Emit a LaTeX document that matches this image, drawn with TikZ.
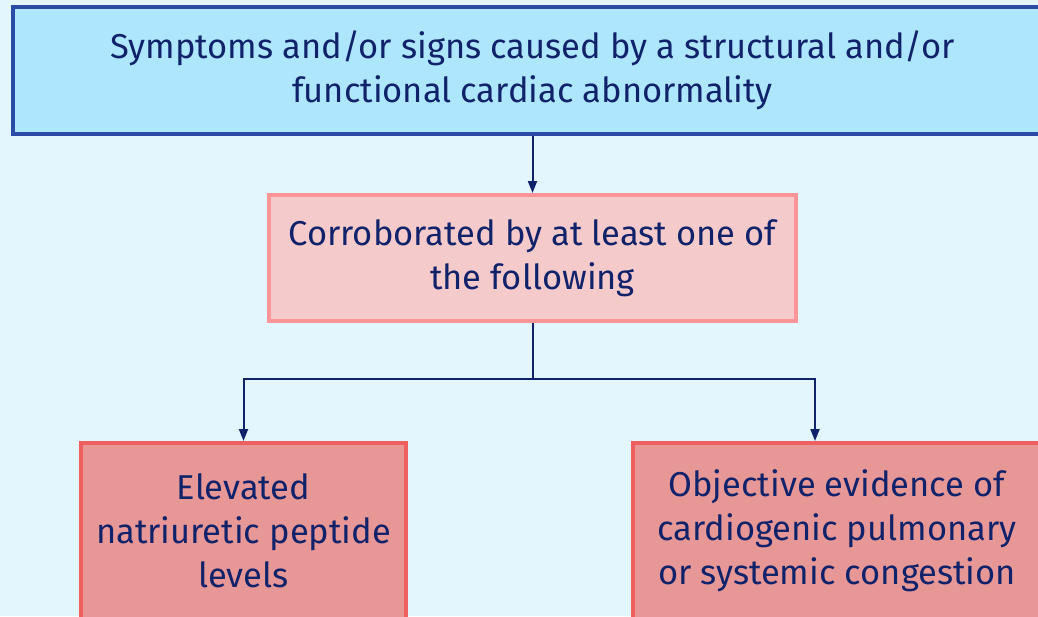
\documentclass[tikz,border=0pt]{standalone}
\usepackage{fontspec}
\setmainfont{Fira Sans}
\usepackage{xcolor}
\usepackage{tikz}
\usetikzlibrary{positioning,arrows.meta}

\definecolor{bgblue}{HTML}{E3F6FE}
\definecolor{topfill}{HTML}{AEE6FD}
\definecolor{topline}{HTML}{2B4BA6}
\definecolor{midfill}{HTML}{F4CACB}
\definecolor{midline}{HTML}{FC9597}
\definecolor{lowfill}{HTML}{E89797}
\definecolor{lowline}{HTML}{F05F5F}
\definecolor{ink}{HTML}{10236A}

\begin{document}
\begin{tikzpicture}[x=1pt,y=-1pt,
    box/.style={draw,line width=4pt,align=center,text=ink,inner sep=0pt,
        font=\fontsize{34.5}{44}\selectfont},
    link/.style={draw=ink,line width=2pt,-{Triangle[length=12pt,width=9pt]}}]
    \useasboundingbox (0,0) rectangle (1038,616);
    \clip (0,0) rectangle (1038,616);
    \fill[bgblue] (0,0) rectangle (1038,616);

    \node[box,fill=topfill,draw=topline,minimum width=1039pt,minimum height=127pt] (sympt) at (532.5,70.5)
        {Symptoms and/or signs caused by a structural and/or\\functional cardiac abnormality};
    \node[box,fill=midfill,draw=midline,minimum width=527pt,minimum height=126pt] (corr) at (532.5,258)
        {Corroborated by at least one of\\the following};
    \node[box,fill=lowfill,draw=lowline,minimum width=325pt,minimum height=176pt] (bnp) at (243.5,531)
        {Elevated\\natriuretic peptide\\levels};
    \node[box,fill=lowfill,draw=lowline,minimum width=408pt,minimum height=176pt] (cong) at (837,531)
        {Objective evidence of\\cardiogenic pulmonary\\or systemic congestion};

    \coordinate[below=56pt of corr] (split);

    \draw[link] (sympt.south) -- (sympt.south |- corr.north);
    \draw[link,-] (corr) -- (split);
    \draw[link] (split) -| (bnp.north);
    \draw[link] (split) -| ([xshift=-22pt]cong.north);
\end{tikzpicture}
\end{document}
